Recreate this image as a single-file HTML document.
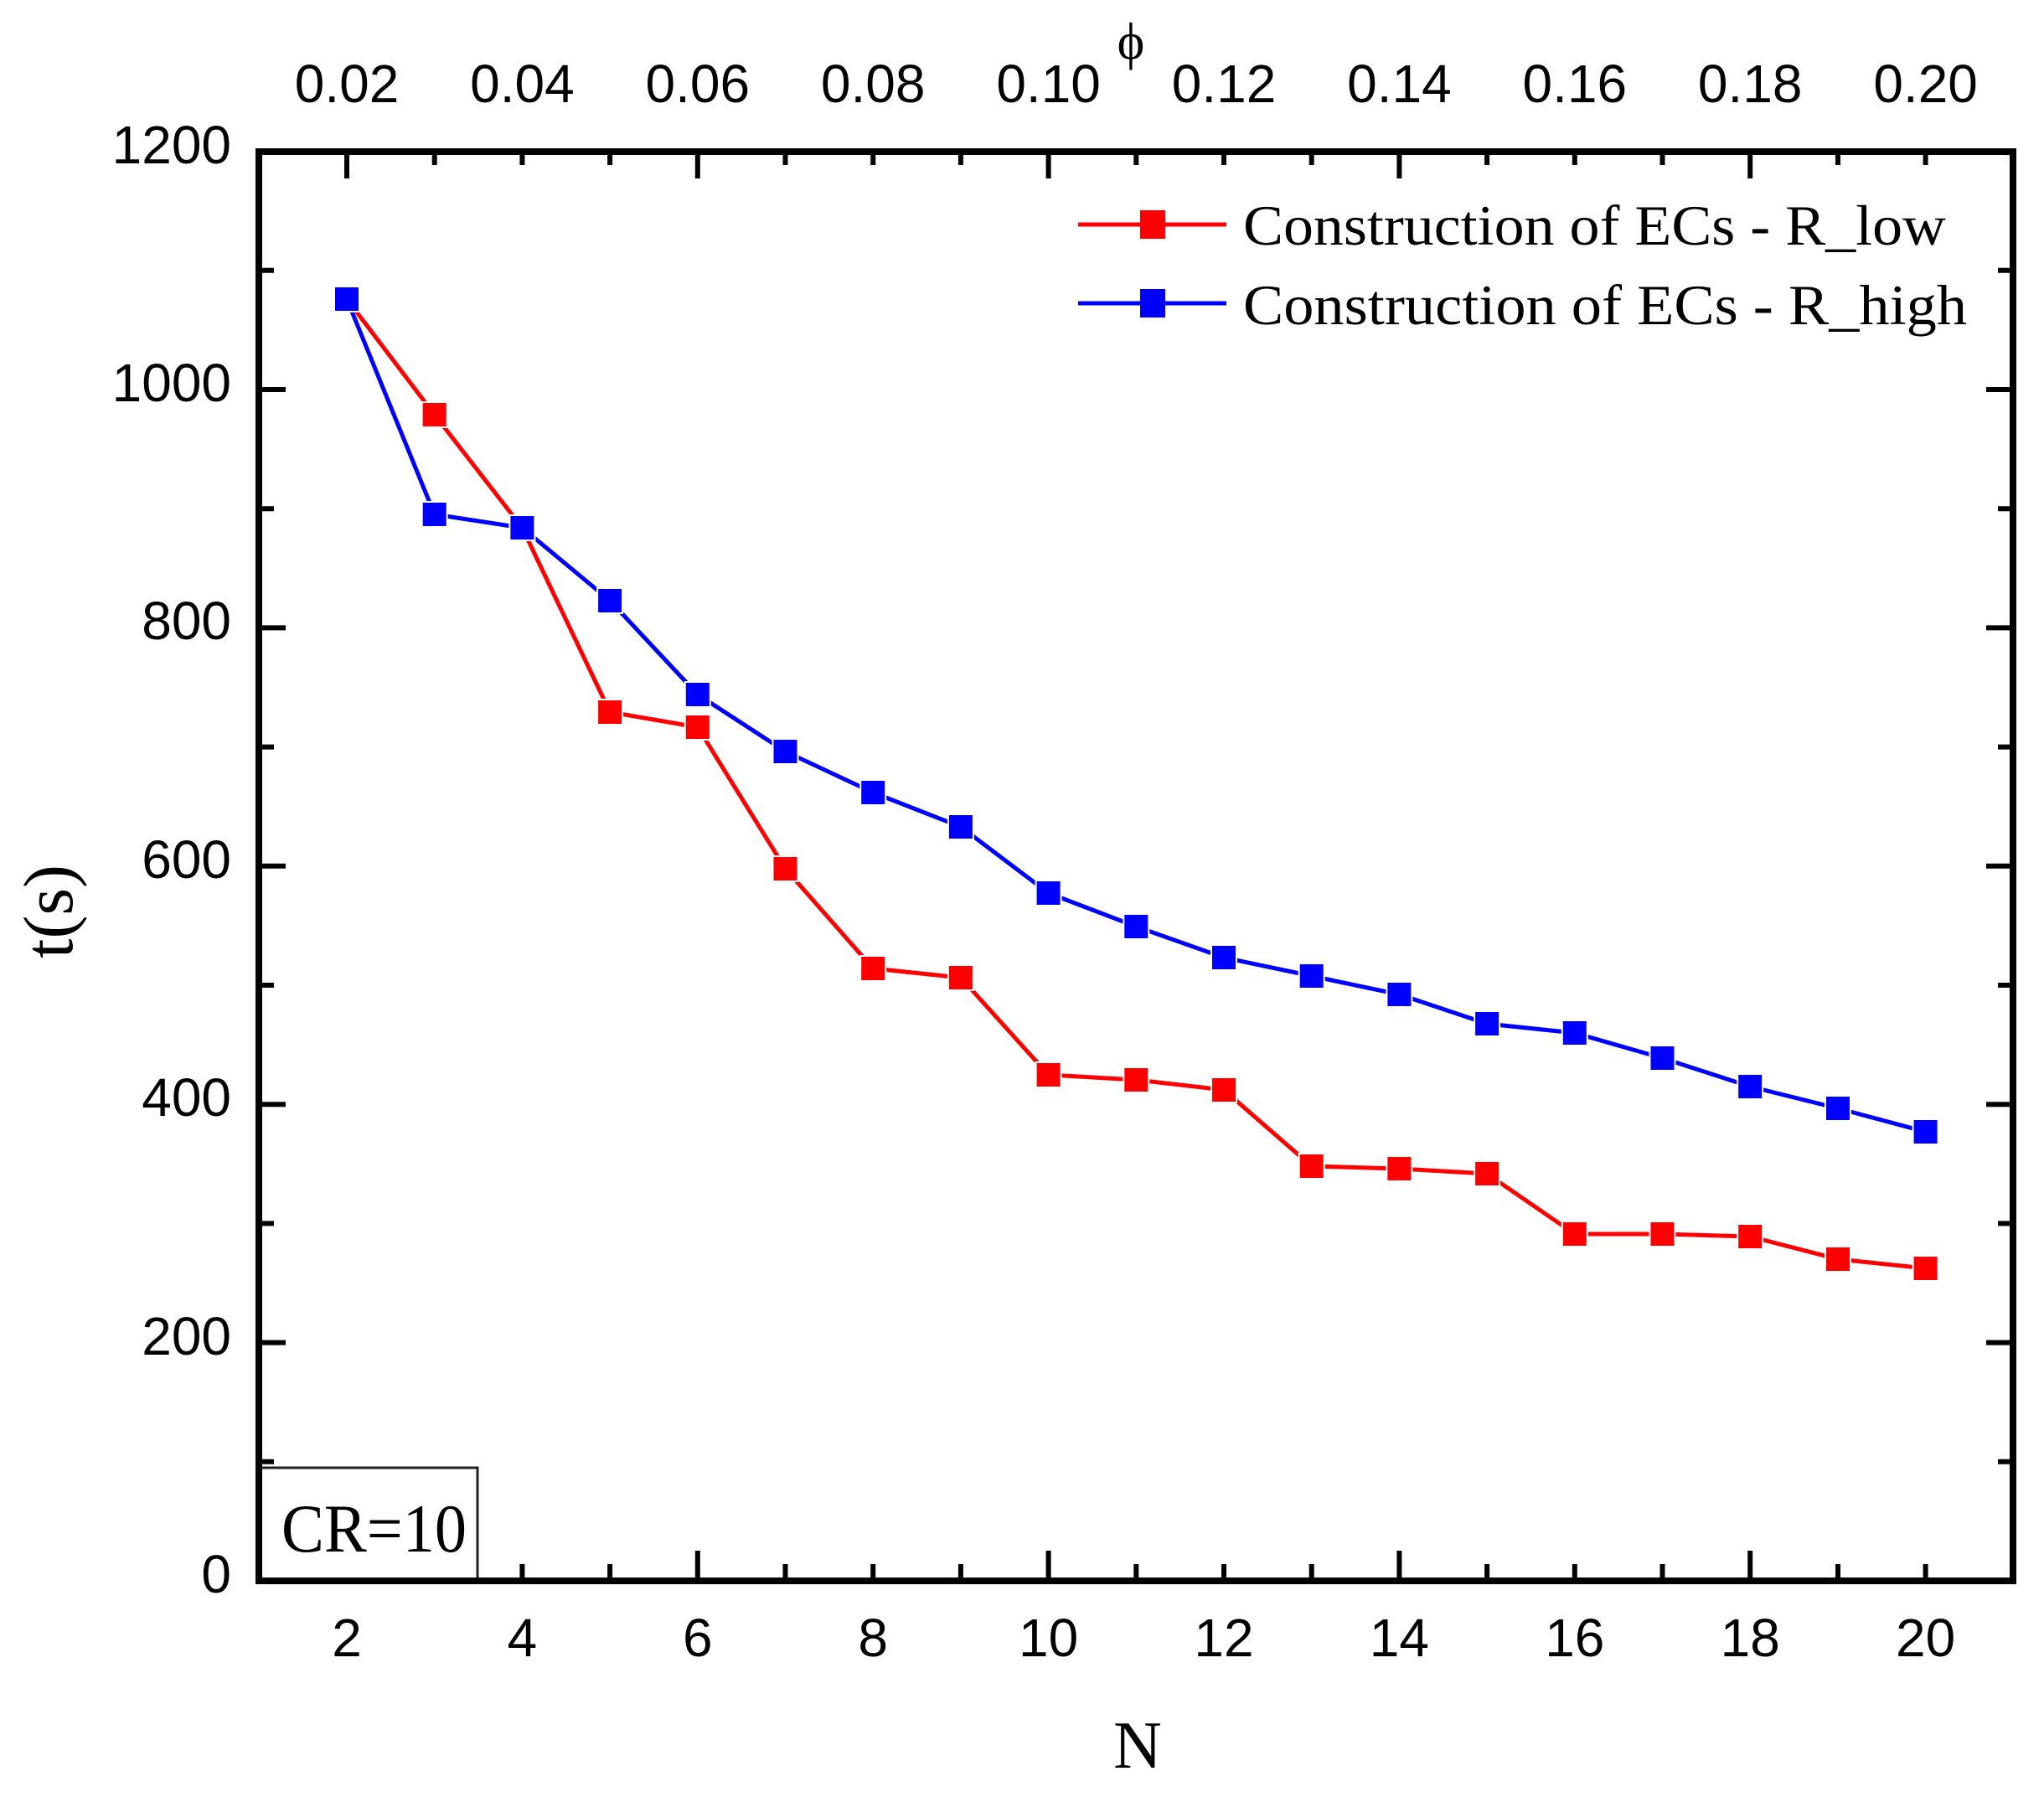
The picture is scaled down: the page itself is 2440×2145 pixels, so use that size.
<!DOCTYPE html>
<html><head><meta charset="utf-8"><style>html,body{margin:0;padding:0;background:#fff}svg{display:block}</style></head>
<body>
<svg width="2440" height="2145" viewBox="0 0 2440 2145" xmlns="http://www.w3.org/2000/svg">
<rect width="2440" height="2145" fill="#fff"/>
<g id="ticks" stroke="#000" stroke-width="6" fill="none">
<path d="M414,181v32M623.4,181v16M832.8,181v32M1042.2,181v16M1251.6,181v32M1461,181v16M1670.4,181v32M1879.8,181v16M2089.2,181v32M2298.6,181v16
M414,1887v-36M623.4,1887v-20M832.8,1887v-36M1042.2,1887v-20M1251.6,1887v-36M1461,1887v-20M1670.4,1887v-36M1879.8,1887v-20M2089.2,1887v-36M2298.6,1887v-20"/>
<path d="M518.7,181v16M728.1,181v16M937.5,181v16M1146.9,181v16M1356.3,181v16M1565.7,181v16M1775.1,181v16M1984.5,181v16M2194,181v16
M728.1,1887v-20M937.5,1887v-20M1146.9,1887v-20M1356.3,1887v-20M1565.7,1887v-20M1775.1,1887v-20M1984.5,1887v-20M2194,1887v-20"/>
<path d="M309,1602.6h32M309,1318.2h32M309,1033.8h32M309,749.4h32M309,465h32
M309,1744.8h18M309,1460.4h18M309,1176h18M309,891.6h18M309,607.2h18M309,322.8h18
M2403,1602.6h-32M2403,1318.2h-32M2403,1033.8h-32M2403,749.4h-32M2403,465h-32
M2403,1744.8h-18M2403,1460.4h-18M2403,1176h-18M2403,891.6h-18M2403,607.2h-18M2403,322.8h-18"/>
</g>
<rect x="309" y="1752" width="261" height="135" fill="#fff" stroke="#222" stroke-width="3"/>
<text x="336" y="1852" font-family="Liberation Serif, serif" font-size="82" textLength="221" lengthAdjust="spacingAndGlyphs">CR=10</text>
<rect x="309" y="181" width="2094" height="1706" fill="none" stroke="#000" stroke-width="8"/>
<g font-family="Liberation Sans, sans-serif" font-size="64" fill="#000" text-anchor="middle">
<text x="414" y="122">0.02</text><text x="623.4" y="122">0.04</text><text x="832.8" y="122">0.06</text><text x="1042.2" y="122">0.08</text><text x="1251.6" y="122">0.10</text><text x="1461" y="122">0.12</text><text x="1670.4" y="122">0.14</text><text x="1879.8" y="122">0.16</text><text x="2089.2" y="122">0.18</text><text x="2298.6" y="122">0.20</text>
<text x="414" y="1977">2</text><text x="623.4" y="1977">4</text><text x="832.8" y="1977">6</text><text x="1042.2" y="1977">8</text><text x="1251.6" y="1977">10</text><text x="1461" y="1977">12</text><text x="1670.4" y="1977">14</text><text x="1879.8" y="1977">16</text><text x="2089.2" y="1977">18</text><text x="2298.6" y="1977">20</text>
</g>
<g font-family="Liberation Sans, sans-serif" font-size="64" fill="#000" text-anchor="end">
<text x="276" y="1901">0</text><text x="276" y="1617">200</text><text x="276" y="1332">400</text><text x="276" y="1048">600</text><text x="276" y="763">800</text><text x="276" y="479">1000</text><text x="276" y="195">1200</text>
</g>
<text x="1350" y="70" font-family="Liberation Serif, serif" font-size="62" text-anchor="middle">ϕ</text>
<text x="1358" y="2110" font-family="Liberation Serif, serif" font-size="80" text-anchor="middle">N</text>
<text transform="translate(86,1088) rotate(-90)" font-family="Liberation Serif, serif" font-size="84" text-anchor="middle">t(s)</text>
<g fill="none" stroke-width="5" stroke-linejoin="round">
<polyline stroke="#f00" points="414,357 518.7,495 623.4,630 728.1,850 832.8,868 937.5,1037 1042.2,1156 1146.9,1167 1251.6,1283 1356.3,1289 1461,1301 1565.7,1392 1670.4,1395 1775.1,1401 1879.8,1473 1984.5,1473 2089.2,1476 2194,1503 2298.6,1514"/>
<polyline stroke="#00f" points="414,357 518.7,614 623.4,630 728.1,717 832.8,829 937.5,897 1042.2,946 1146.9,987 1251.6,1066 1356.3,1106 1461,1143 1565.7,1165 1670.4,1187 1775.1,1222 1879.8,1233 1984.5,1263 2089.2,1297 2194,1323 2298.6,1351"/>
</g>
<g fill="#f00" stroke="#fff" stroke-width="2">
<rect x="399" y="342" width="30" height="30"/><rect x="503.7" y="480" width="30" height="30"/><rect x="608.4" y="615" width="30" height="30"/><rect x="713.1" y="835" width="30" height="30"/><rect x="817.8" y="853" width="30" height="30"/><rect x="922.5" y="1022" width="30" height="30"/><rect x="1027.2" y="1141" width="30" height="30"/><rect x="1131.9" y="1152" width="30" height="30"/><rect x="1236.6" y="1268" width="30" height="30"/><rect x="1341.3" y="1274" width="30" height="30"/><rect x="1446" y="1286" width="30" height="30"/><rect x="1550.7" y="1377" width="30" height="30"/><rect x="1655.4" y="1380" width="30" height="30"/><rect x="1760.1" y="1386" width="30" height="30"/><rect x="1864.8" y="1458" width="30" height="30"/><rect x="1969.5" y="1458" width="30" height="30"/><rect x="2074.2" y="1461" width="30" height="30"/><rect x="2179" y="1488" width="30" height="30"/><rect x="2283.6" y="1499" width="30" height="30"/>
</g>
<g fill="#00f" stroke="#fff" stroke-width="2">
<rect x="399" y="342" width="30" height="30"/><rect x="503.7" y="599" width="30" height="30"/><rect x="608.4" y="615" width="30" height="30"/><rect x="713.1" y="702" width="30" height="30"/><rect x="817.8" y="814" width="30" height="30"/><rect x="922.5" y="882" width="30" height="30"/><rect x="1027.2" y="931" width="30" height="30"/><rect x="1131.9" y="972" width="30" height="30"/><rect x="1236.6" y="1051" width="30" height="30"/><rect x="1341.3" y="1091" width="30" height="30"/><rect x="1446" y="1128" width="30" height="30"/><rect x="1550.7" y="1150" width="30" height="30"/><rect x="1655.4" y="1172" width="30" height="30"/><rect x="1760.1" y="1207" width="30" height="30"/><rect x="1864.8" y="1218" width="30" height="30"/><rect x="1969.5" y="1248" width="30" height="30"/><rect x="2074.2" y="1282" width="30" height="30"/><rect x="2179" y="1308" width="30" height="30"/><rect x="2283.6" y="1336" width="30" height="30"/>
</g>
<line x1="1287" y1="268" x2="1464" y2="268" stroke="#f00" stroke-width="5"/>
<rect x="1361" y="251" width="30" height="34" fill="#f00"/>
<line x1="1287" y1="362" x2="1464" y2="362" stroke="#00f" stroke-width="5"/>
<rect x="1361" y="345" width="30" height="34" fill="#00f"/>
<g font-family="Liberation Serif, serif" font-size="68" fill="#000">
<text x="1484" y="292" textLength="839" lengthAdjust="spacingAndGlyphs">Construction of ECs - R_low</text>
<text x="1484" y="387" textLength="864" lengthAdjust="spacingAndGlyphs">Construction of ECs - R_high</text>
</g>
</svg>
</body></html>
